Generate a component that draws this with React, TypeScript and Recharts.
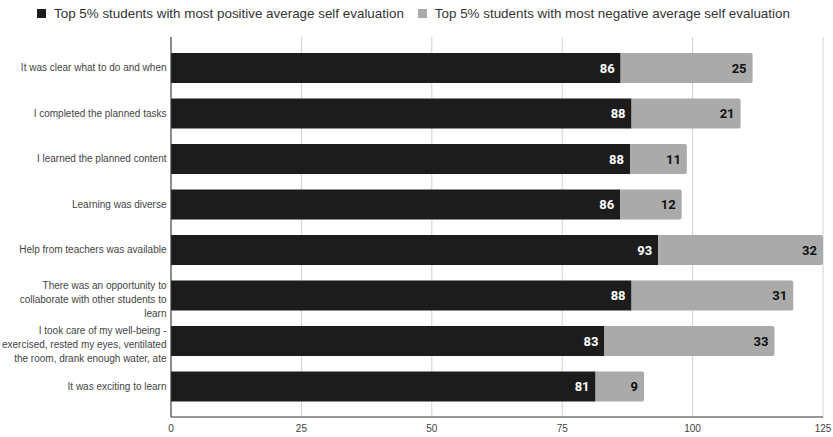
import { Bar, BarChart, CartesianGrid, LabelList, XAxis, YAxis } from "recharts";

const categories = [
  "It was clear what to do and when",
  "I completed the planned tasks",
  "I learned the planned content",
  "Learning was diverse",
  "Help from teachers was available",
  "There was an opportunity to\ncollaborate with other students to\nlearn",
  "I took care of my well-being -\nexercised, rested my eyes, ventilated\nthe room, drank enough water, ate",
  "It was exciting to learn",
];
const positive = [86.2, 88.3, 88.0, 86.1, 93.4, 88.3, 83.1, 81.4];
const negative = [25.3, 20.9, 10.9, 11.8, 31.6, 31.0, 32.6, 9.3];
const xTicks = [0, 25, 50, 75, 100, 125];
const seriesNames = [
  "Top 5% students with most positive average self evaluation",
  "Top 5% students with most negative average self evaluation",
];

const BLACK = "#1c1c1c";
const GREY = "#aaaaaa";

const data = categories.map((name, i) => ({ name, positive: positive[i], negative: negative[i] }));

const CategoryTick = (props: any) => {
  const { x, y, payload } = props;
  const lines = String(payload.value).split("\n");
  const lh = 14;
  const start = -((lines.length - 1) * lh) / 2 + (lines.length > 1 ? 4 : 0);
  const tx = x + 3.5;
  return (
    <text x={tx} y={y} textAnchor="end" fontSize={10} fill="#444" fontFamily="'Liberation Sans', Arial, sans-serif">
      {lines.map((l, i) => (
        <tspan key={i} x={tx} dy={i === 0 ? start + 3.5 : lh}>
          {l}
        </tspan>
      ))}
    </text>
  );
};

const fmt = (v: any) => Math.round(Number(v));

export default function App() {
  return (
    <div
      style={{
        position: "absolute",
        left: 0,
        top: 0,
        width: 833,
        height: 437,
        background: "#fff",
        fontFamily: "'Liberation Sans', Arial, sans-serif",
      }}
    >
      <div
        style={{
          position: "absolute",
          top: 6,
          left: 37,
          display: "flex",
          alignItems: "center",
          fontSize: 13.4,
          color: "#333",
          whiteSpace: "nowrap",
        }}
      >
        {seriesNames.map((n, i) => (
          <div key={n} style={{ display: "flex", alignItems: "center", marginRight: 14 }}>
            <div style={{ width: 9, height: 9, background: i === 0 ? BLACK : GREY, marginRight: 8 }} />
            <span>{n}</span>
          </div>
        ))}
      </div>
      <BarChart
        width={833}
        height={437}
        data={data}
        layout="vertical"
        margin={{ top: 37, right: 10, bottom: 0, left: 0 }}
        barSize={30}
      >
        <CartesianGrid horizontal={false} stroke="#d0d0d0" />
        <XAxis
          type="number"
          domain={[0, 125]}
          ticks={xTicks}
          tickLine={false}
          axisLine={{ stroke: "#333" }}
          tick={{ fontSize: 10, fill: "#444" }}
          height={20}
        />
        <YAxis
          type="category"
          dataKey="name"
          width={171}
          tickLine={false}
          axisLine={{ stroke: "#333" }}
          tick={<CategoryTick />}
          padding={{ top: 8, bottom: 8 }}
          interval={0}
        />
        <Bar dataKey="positive" stackId="a" fill={BLACK} isAnimationActive={false}>
          <LabelList
            dataKey="positive"
            position="insideRight"
            formatter={fmt}
            fill="#fff"
            fontSize={13}
            fontWeight={700}
            fontFamily="Roboto, sans-serif"
            offset={6}
          />
        </Bar>
        <Bar dataKey="negative" stackId="a" fill={GREY} radius={[0, 2, 2, 0]} isAnimationActive={false}>
          <LabelList
            dataKey="negative"
            position="insideRight"
            formatter={fmt}
            fill="#111"
            fontSize={13}
            fontWeight={700}
            fontFamily="Roboto, sans-serif"
            offset={6}
          />
        </Bar>
      </BarChart>
    </div>
  );
}
